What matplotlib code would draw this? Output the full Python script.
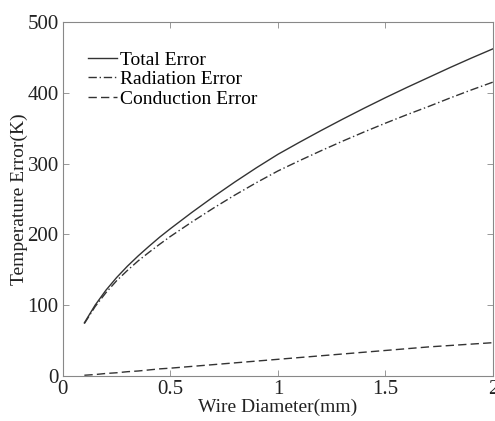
import matplotlib
matplotlib.use("Agg")
import matplotlib.pyplot as plt

# wire diameter (mm)
diameter = [0.1, 0.15, 0.2, 0.25, 0.3, 0.35, 0.4, 0.45, 0.5, 0.6, 0.7, 0.8,
            0.9, 1.0, 1.1, 1.2, 1.3, 1.4, 1.5, 1.6, 1.7, 1.8, 1.9, 2.0]
# temperature errors (K)
total_err = [75, 100, 121, 139, 155, 169.5, 183, 196, 208, 231, 253, 274,
             294, 313, 330, 346.5, 362.5, 378, 393, 407.5, 421.5, 435.5, 449, 462]
radiation_err = [74, 98, 117.5, 134.5, 149, 162.5, 174.5, 186, 197, 217.5, 237, 255.5,
                 273, 289.5, 304, 318, 331.5, 344.5, 357, 369, 380.5, 392.5, 404, 415]
conduction_err = [1, 2, 3.5, 4.5, 6, 7, 8.5, 10, 11, 13.5, 16, 18.5,
                  21, 23.5, 26, 28.5, 31, 33.5, 36, 38.5, 41, 43, 45, 47]

plt.rcParams["font.family"] = ["Liberation Serif", "DejaVu Serif"]
plt.rcParams["font.size"] = 14

fig = plt.figure(figsize=(4.95, 4.21), dpi=100)
ax = fig.add_axes([0.127, 0.107, 0.869, 0.841])

ax.plot(diameter, total_err, color="#333333", lw=1.0, ls="-", label="Total Error")
ax.plot(diameter, radiation_err, color="#333333", lw=1.0, ls=(0, (6, 2, 1, 2)),
        label="Radiation Error")
ax.plot(diameter, conduction_err, color="#333333", lw=1.0, ls=(0, (6, 3)),
        label="Conduction Error")

ax.set_xlim(0, 2)
ax.set_ylim(0, 500)
ax.set_xticks([0, 0.5, 1, 1.5, 2])
ax.set_xticklabels(["0", "0.5", "1", "1.5", "2"])
ax.set_yticks([0, 100, 200, 300, 400, 500])
ax.set_xlabel("Wire Diameter(mm)", labelpad=0, color="#222222")
ax.set_ylabel("Temperature Error(K)", color="#222222")
ax.yaxis.set_label_coords(-0.08, 0.5)

for s in ax.spines.values():
    s.set_color("#888888")
    s.set_linewidth(0.8)
ax.tick_params(direction="in", length=4, width=0.6, color="#888888",
               labelcolor="#222222", labelsize=15, top=True, right=True, pad=3)

ax.legend(loc="upper left", frameon=False, handlelength=1.5, handletextpad=0.15,
          labelspacing=0.1, borderaxespad=0.0, bbox_to_anchor=(0.041, 0.94))

fig.savefig("out.png", dpi=100)
